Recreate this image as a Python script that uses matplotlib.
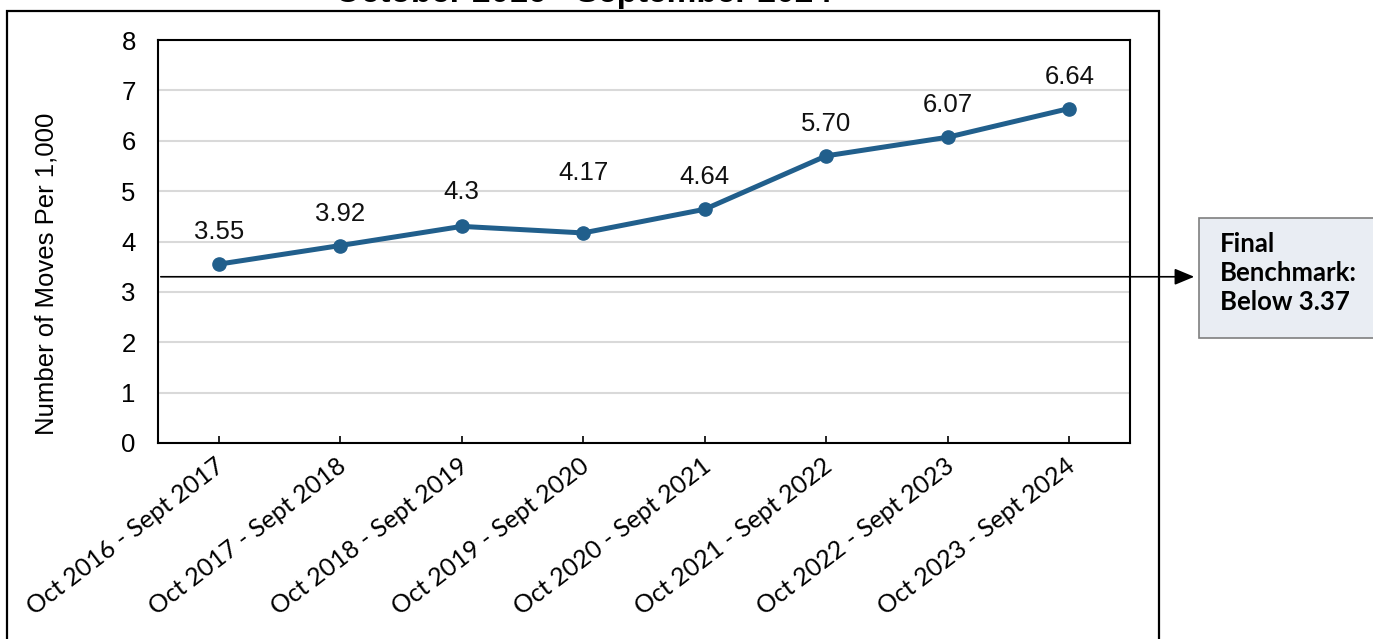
import matplotlib
matplotlib.use("Agg")
import matplotlib.pyplot as plt
from matplotlib.patches import Rectangle, FancyArrowPatch
from matplotlib.transforms import ScaledTranslation

periods = ["Oct 2016 - Sept 2017", "Oct 2017 - Sept 2018", "Oct 2018 - Sept 2019",
           "Oct 2019 - Sept 2020", "Oct 2020 - Sept 2021", "Oct 2021 - Sept 2022",
           "Oct 2022 - Sept 2023", "Oct 2023 - Sept 2024"]
moves = [3.55, 3.92, 4.30, 4.17, 4.64, 5.70, 6.07, 6.64]
value_labels = ["3.55", "3.92", "4.3", "4.17", "4.64", "5.70", "6.07", "6.64"]
label_offsets = [23, 23, 25, 43, 23, 23, 23, 23]  # points above marker
benchmark_drawn = 3.30
benchmark_text = "Final\nBenchmark:\nBelow 3.37"
title = "October 2016 - September 2024"
yticks = [0, 1, 2, 3, 4, 5, 6, 7, 8]

W, H = 1373, 639
fig = plt.figure(figsize=(W / 100, H / 100), dpi=100)
ax = fig.add_axes([158 / W, 1 - 443 / H, (1130 - 158) / W, (443 - 40) / H])

line_color = "#215f8c"
xs = list(range(len(periods)))
ax.plot(xs, moves, color=line_color, lw=3.6, marker="o", markersize=9.5, zorder=5,
        solid_capstyle="round")
for x, v, t, off in zip(xs, moves, value_labels, label_offsets):
    ax.annotate(t, (x, v), xytext=(0, off), textcoords="offset points",
                ha="center", va="center", fontsize=18.5, family="Liberation Sans",
                color="#111111")

ax.set_xlim(-0.5, len(periods) - 0.5)
ax.set_ylim(0, 8)
ax.set_yticks(yticks)
ax.set_yticklabels([str(t) for t in yticks], fontsize=18.5, family="Liberation Sans")
ax.set_xticks(xs)
ax.set_xticklabels(periods, rotation=37.5, ha="right", rotation_mode="anchor",
                   fontsize=18, family="Lato")
ax.tick_params(axis="y", length=0, pad=16)
ax.tick_params(axis="x", direction="in", length=5, width=1.2, pad=8)
shift = ScaledTranslation(-4 / 100, 0, fig.dpi_scale_trans)
for lbl in ax.get_xticklabels():
    lbl.set_transform(lbl.get_transform() + shift)
ax.grid(axis="y", color="#d9d9d9", lw=1.5)
ax.set_axisbelow(True)
for s in ax.spines.values():
    s.set_linewidth(1.5)
    s.set_color("black")
ax.set_ylabel("Number of Moves Per 1,000", fontsize=18.5, family="Liberation Sans")
ax.yaxis.set_label_coords(-0.102, 0.419)

# outer frame
fig.add_artist(Rectangle((7 / W, -0.05), (1159 - 7) / W, 0.05 + 1 - 11 / H,
                         transform=fig.transFigure, fill=False, lw=1.6,
                         edgecolor="black", zorder=0))

# title (cut off at top, as in the reference)
fig.text(583 / W, 1 - 9 / H, title, ha="center", va="bottom", fontsize=24,
         fontweight="bold", family="Liberation Sans")

# benchmark line + arrow
y_pix = ax.transData.transform((0, benchmark_drawn))[1]
yf = y_pix / H
x0 = 158 / W
fig.add_artist(FancyArrowPatch((x0, yf), (1197 / W, yf), transform=fig.transFigure,
                               arrowstyle="-|>,head_length=12,head_width=5",
                               mutation_scale=1, lw=1.2, color="black", zorder=6))

# benchmark box
fig.add_artist(Rectangle((1199 / W, 1 - 338 / H), (1390 - 1199) / W, (338 - 218) / H,
                         transform=fig.transFigure, facecolor="#e9edf3",
                         edgecolor="#7f7f7f", lw=1.2))
fig.text(1220 / W, 1 - 273 / H, benchmark_text, ha="left", va="center",
         fontsize=18.5, fontweight="bold", family="Lato", linespacing=1.27)

fig.savefig("out.png", dpi=100)
